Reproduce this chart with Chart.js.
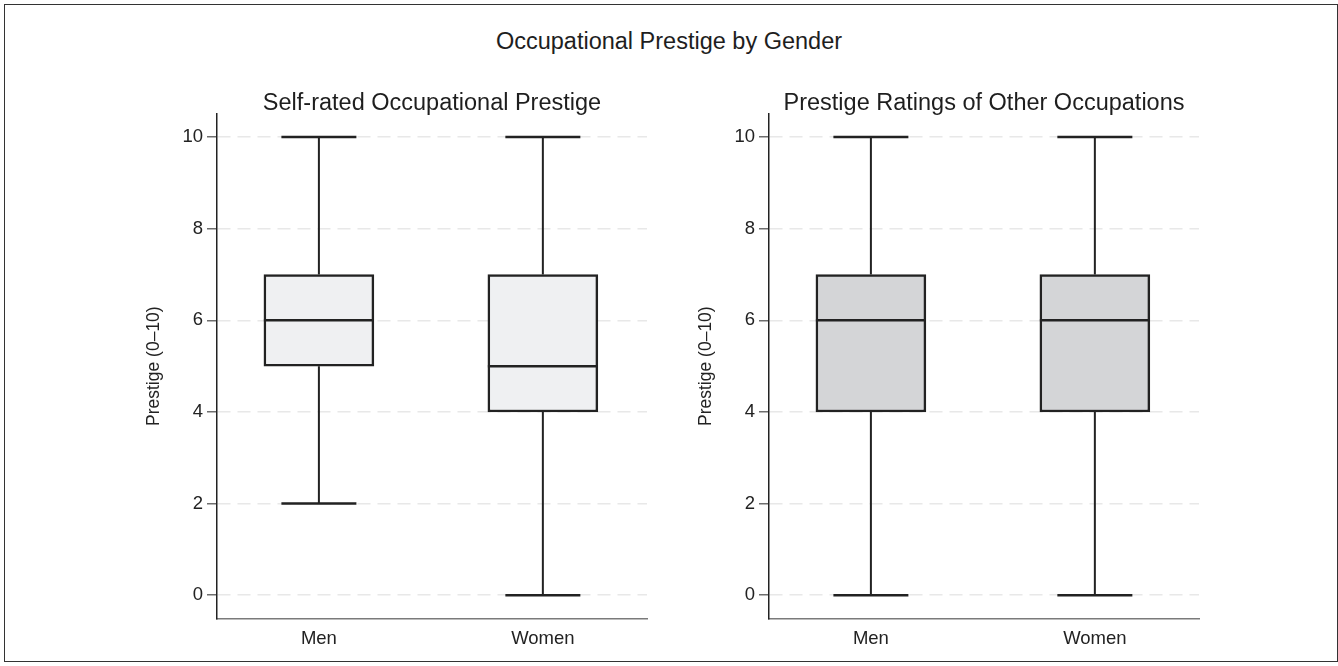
<!DOCTYPE html>
<html>
<head>
<meta charset="utf-8">
<script src="https://cdn.jsdelivr.net/npm/chart.js@4"></script>
<style>
  html, body { margin: 0; padding: 0; background: #fff; }
  #page { position: relative; width: 1338px; height: 666px; overflow: hidden; background: #fff;
          font-family: 'Liberation Sans', Arial, Helvetica, sans-serif; }
  #frame { position: absolute; left: 4px; top: 4px; width: 1333.5px; height: 658px;
           border: 1.5px solid #333; box-sizing: border-box; }
  #mainTitle { position: absolute; left: 0; top: 29.5px; width: 1338px; text-align: center;
               font-size: 23.5px; line-height: 23.5px; color: #1e1e1e; }
  .panel { position: absolute; top: 0; width: 669px; height: 666px; }
  .panel canvas { display: block; }
</style>
</head>
<body>
<div id="page">
  <div id="frame"></div>
  <div id="mainTitle">Occupational Prestige by Gender</div>
  <div class="panel" style="left:0px"><canvas id="selfChart" width="669" height="666"></canvas></div>
  <div class="panel" style="left:552px"><canvas id="otherChart" width="669" height="666"></canvas></div>
</div>
<script>
// Categories and tick values
const categories = ['Men', 'Women'];
const yTicks = [0, 2, 4, 6, 8, 10];

// Self-rated occupational prestige: five-number summaries per gender
const selfMin    = [2, 0];
const selfQ1     = [5, 4];
const selfMedian = [6, 5];
const selfQ3     = [7, 7];
const selfMax    = [10, 10];

// Prestige ratings of other occupations
const otherMin    = [0, 0];
const otherQ1     = [4, 4];
const otherMedian = [6, 6];
const otherQ3     = [7, 7];
const otherMax    = [10, 10];

const FONT = "'Liberation Sans', Arial, Helvetica, sans-serif";
const INK = '#222222';

// Whiskers, caps and median lines, placed through the chart's own scales
function whiskerPlugin(mins, medians, maxs) {
  return {
    id: 'whiskers',
    afterDatasetsDraw(chart) {
      const { ctx, scales: { x, y } } = chart;
      const bars = chart.getDatasetMeta(0).data;
      ctx.save();
      ctx.strokeStyle = INK;
      ctx.lineCap = 'butt';
      categories.forEach((c, i) => {
        const bar = bars[i];
        const cx = x.getPixelForValue(i + 1);
        const yTop = Math.min(bar.y, bar.base);
        const yBot = Math.max(bar.y, bar.base);
        const yMax = y.getPixelForValue(maxs[i]);
        const yMin = y.getPixelForValue(mins[i]);
        const capHalf = 37.5;
        // vertical whiskers
        ctx.lineWidth = 2;
        ctx.beginPath();
        ctx.moveTo(cx, yTop); ctx.lineTo(cx, yMax);
        ctx.moveTo(cx, yBot); ctx.lineTo(cx, yMin);
        ctx.stroke();
        // caps
        ctx.lineWidth = 2.5;
        ctx.beginPath();
        ctx.moveTo(cx - capHalf, yMax); ctx.lineTo(cx + capHalf, yMax);
        ctx.moveTo(cx - capHalf, yMin); ctx.lineTo(cx + capHalf, yMin);
        ctx.stroke();
        // median
        const ym = y.getPixelForValue(medians[i]);
        ctx.beginPath();
        ctx.moveTo(bar.x - bar.width / 2, ym); ctx.lineTo(bar.x + bar.width / 2, ym);
        ctx.stroke();
      });
      ctx.restore();
    }
  };
}

function makePanel(canvasId, title, mins, q1s, medians, q3s, maxs, fill) {
  const boxes = categories.map((c, i) => ({ x: i + 1, y: [q1s[i], q3s[i]] }));
  return new Chart(document.getElementById(canvasId), {
    type: 'bar',
    data: {
      datasets: [{
        data: boxes,
        backgroundColor: fill,
        borderColor: INK,
        borderWidth: 2.5,
        borderSkipped: false,
        barThickness: 110
      }]
    },
    plugins: [whiskerPlugin(mins, medians, maxs)],
    options: {
      responsive: false,
      animation: false,
      events: [],
      layout: { padding: { left: 0, right: 22, top: 0, bottom: 0 } },
      plugins: {
        legend: { display: false },
        tooltip: { enabled: false },
        title: {
          display: true,
          text: title,
          fullSize: false,
          color: '#1e1e1e',
          font: { family: FONT, size: 23.5, weight: 'normal', lineHeight: 0.8 },
          padding: { top: 94.5, bottom: 0 }
        }
      },
      scales: {
        x: {
          type: 'linear',
          offset: false,
          min: 0.545,
          max: 2.465,
          grid: { display: false, drawTicks: false, offset: false },
          border: { display: true, color: '#7a7a7a', width: 1.5 },
          afterBuildTicks(scale) { scale.ticks = categories.map((c, i) => ({ value: i + 1 })); },
          afterFit(scale) { scale.height = 47; },
          ticks: {
            color: INK,
            padding: 9,
            font: { family: FONT, size: 18.5 },
            callback: (v) => categories[v - 1]
          }
        },
        y: {
          type: 'linear',
          min: -0.52,
          max: 10.52,
          afterBuildTicks(scale) { scale.ticks = yTicks.map(v => ({ value: v })); },
          afterFit(scale) { scale.width = 217; },
          grid: {
            color: '#e8e8e8',
            lineWidth: 1.5,
            drawTicks: true,
            tickLength: 10,
            tickColor: '#6e6e6e',
            tickWidth: 1.5
          },
          border: { display: true, color: INK, width: 1.5, dash: [13, 7] },
          ticks: {
            color: INK,
            padding: 4,
            font: { family: FONT, size: 18.5 },
            callback: (v) => String(v)
          },
          title: {
            display: true,
            text: 'Prestige (0–10)',
            color: INK,
            font: { family: FONT, size: 17.5, lineHeight: 1.2 },
            padding: { top: 143.5, bottom: 0 }
          }
        }
      }
    }
  });
}

makePanel('selfChart', 'Self-rated Occupational Prestige',
  selfMin, selfQ1, selfMedian, selfQ3, selfMax, '#eff0f2');
makePanel('otherChart', 'Prestige Ratings of Other Occupations',
  otherMin, otherQ1, otherMedian, otherQ3, otherMax, '#d4d5d7');
</script>
</body>
</html>
